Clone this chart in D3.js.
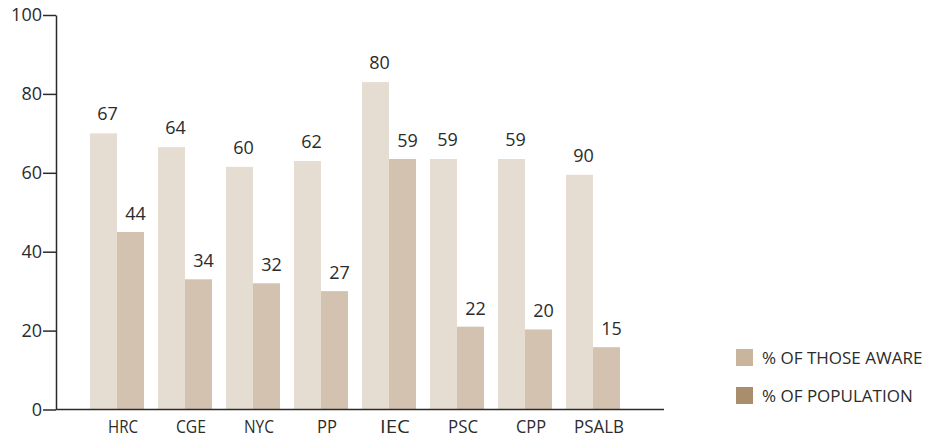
<!DOCTYPE html>
<html>
<head>
<meta charset="utf-8">
<script src="https://cdn.jsdelivr.net/npm/d3@7"></script>
<style>
  body { margin: 0; background: #fff; }
  svg text { font-family: "Open Sans", "Noto Sans", sans-serif; fill: #2b2b2b; }
</style>
</head>
<body>
<div id="chart"></div>
<script>
// categories
const categories = ["HRC", "CGE", "NYC", "PP", "IEC", "PSC", "CPP", "PSALB"];

// bar heights as drawn
const awareValues = [70, 66.5, 61.5, 63, 83, 63.5, 63.5, 59.5];
const popValues = [45, 33, 32, 30, 63.5, 21, 20.3, 15.8];

// printed labels (they don't always match the bars)
const awareLabels = ["67", "64", "60", "62", "80", "59", "59", "90"];
const popLabels = ["44", "34", "32", "27", "59", "22", "20", "15"];

const yTicks = [0, 20, 40, 60, 80, 100];
const legendItems = ["% OF THOSE AWARE", "% OF POPULATION"];

const width = 933, height = 437;
const colors = { aware: "#e6ddd2", pop: "#d4c2b0" };
const legendColors = ["#c9b59c", "#a98e6d"];

const svg = d3.select("#chart").append("svg")
  .attr("width", width)
  .attr("height", height);

// scales
const y = d3.scaleLinear().domain([0, 100]).range([409.5, 15]);

const x = d3.scaleBand()
  .domain(categories)
  .range([83.2, 626.8])
  .paddingInner(0.206)
  .paddingOuter(0.1);

const sub = d3.scaleBand()
  .domain(["aware", "pop"])
  .range([0, x.bandwidth()]);

// bars
const groups = svg.append("g").selectAll("g")
  .data(categories)
  .join("g")
  .attr("transform", d => `translate(${x(d)},0)`);

groups.append("rect")
  .attr("x", sub("aware"))
  .attr("y", (d, i) => y(awareValues[i]))
  .attr("width", sub.bandwidth())
  .attr("height", (d, i) => y(0) - y(awareValues[i]))
  .attr("fill", colors.aware);

groups.append("rect")
  .attr("x", sub("pop"))
  .attr("y", (d, i) => y(popValues[i]))
  .attr("width", sub.bandwidth())
  .attr("height", (d, i) => y(0) - y(popValues[i]))
  .attr("fill", colors.pop);

// value labels
groups.append("text")
  .attr("x", sub("aware") + sub.bandwidth() / 2 + 4)
  .attr("y", (d, i) => y(awareValues[i]) - 13)
  .attr("text-anchor", "middle")
  .style("font-size", "18px")
  .text((d, i) => awareLabels[i]);

groups.append("text")
  .attr("x", sub("pop") + sub.bandwidth() / 2 + 5)
  .attr("y", (d, i) => y(popValues[i]) - 12)
  .attr("text-anchor", "middle")
  .style("font-size", "18px")
  .text((d, i) => popLabels[i]);

// y axis
const yAxis = svg.append("g")
  .attr("transform", "translate(56,0)")
  .call(d3.axisLeft(y).tickValues(yTicks).tickSize(13).tickSizeOuter(0).tickPadding(1));

yAxis.select(".domain").attr("stroke", "#2b2b2b").attr("stroke-width", 1.5);
yAxis.selectAll(".tick line").attr("stroke", "#2b2b2b").attr("stroke-width", 1.5);
yAxis.selectAll(".tick text")
  .style("font-size", "18px")
  .style("font-family", "'Open Sans', sans-serif")
  .attr("fill", "#2b2b2b");

// x baseline
svg.append("line")
  .attr("x1", 56).attr("x2", 664)
  .attr("y1", y(0)).attr("y2", y(0))
  .attr("stroke", "#2b2b2b")
  .attr("stroke-width", 1.5);

// category labels
svg.append("g").selectAll("text")
  .data(categories)
  .join("text")
  .attr("x", d => x(d) + x.bandwidth() / 2 + 6)
  .attr("y", 433)
  .attr("text-anchor", "middle")
  .style("font-size", "18px")
  .attr("textLength", d => d.length * 10)
  .attr("lengthAdjust", "spacingAndGlyphs")
  .text(d => d);

// legend
const legend = svg.append("g").selectAll("g")
  .data(legendItems)
  .join("g")
  .attr("transform", (d, i) => `translate(736,${349 + i * 38})`);

legend.append("rect")
  .attr("width", 17)
  .attr("height", 17)
  .attr("fill", (d, i) => legendColors[i]);

legend.append("text")
  .attr("x", 26)
  .attr("y", 15)
  .style("font-size", "17px")
  .text(d => d);
</script>
</body>
</html>
